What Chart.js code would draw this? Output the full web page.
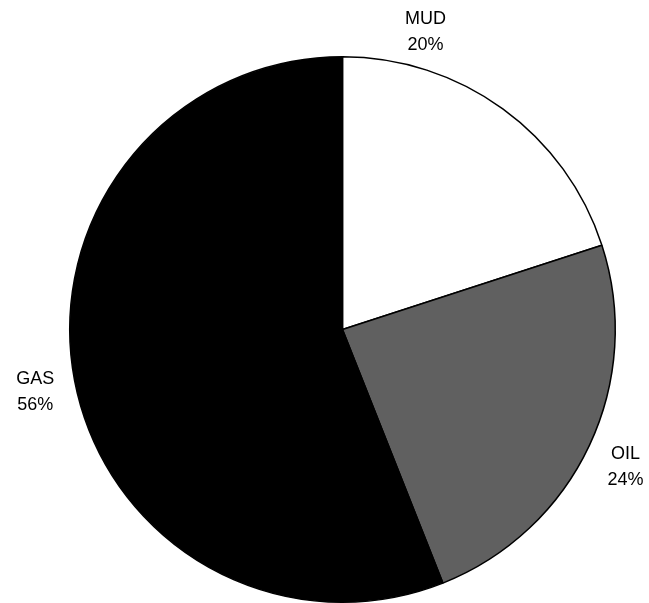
<!DOCTYPE html>
<html>
<head>
<meta charset="utf-8">
<script src="https://cdn.jsdelivr.net/npm/chart.js@4"></script>
<style>
  html, body { margin: 0; padding: 0; background: #fff; }
  canvas { display: block; }
</style>
</head>
<body>
<canvas id="pieChart" width="649" height="603"></canvas>
<script>
// data
var categories = ['MUD', 'OIL', 'GAS'];
var shares = [20, 24, 56];
var sliceColors = ['#ffffff', '#606060', '#000000'];

// draws "NAME\nxx%" outside each slice, placed from the arc the library computed
var outsideLabels = {
    id: 'outsideLabels',
    afterDatasetsDraw: function(chart, args, opts) {
        var ctx = chart.ctx;
        var meta = chart.getDatasetMeta(0);
        ctx.save();
        ctx.fillStyle = '#000';
        ctx.font = '18px "Liberation Sans", Arial, sans-serif';
        ctx.textAlign = 'center';
        ctx.textBaseline = 'alphabetic';
        meta.data.forEach(function(arc, i) {
            var mid = (arc.startAngle + arc.endAngle) / 2;
            if (opts.angleShift && opts.angleShift[i]) {
                mid += opts.angleShift[i];
            }
            var dist = arc.outerRadius + opts.offset;
            var x = arc.x + Math.cos(mid) * dist;
            var y = arc.y + Math.sin(mid) * dist;
            var pct = Math.round(shares[i] / shares.reduce(function(a, b) { return a + b; }, 0) * 100);
            ctx.fillText(categories[i], x, y - 4);
            ctx.fillText(pct + '%', x, y + 22);
        });
        ctx.restore();
    }
};

var pieChart = new Chart(document.getElementById('pieChart').getContext('2d'), {
    type: 'pie',
    data: {
        labels: categories,
        datasets: [{
            data: shares,
            backgroundColor: sliceColors,
            borderColor: '#000',
            borderWidth: 1.5,
            hoverOffset: 0
        }]
    },
    options: {
        responsive: false,
        animation: false,
        devicePixelRatio: 1,
        rotation: 0,
        layout: {
            padding: { left: 69, right: 33, top: 56, bottom: 0 }
        },
        plugins: {
            legend: { display: false },
            tooltip: { enabled: false },
            outsideLabels: {
                offset: 40,
                angleShift: [-0.36, 0, 0]
            }
        }
    },
    plugins: [outsideLabels]
});
</script>
</body>
</html>
